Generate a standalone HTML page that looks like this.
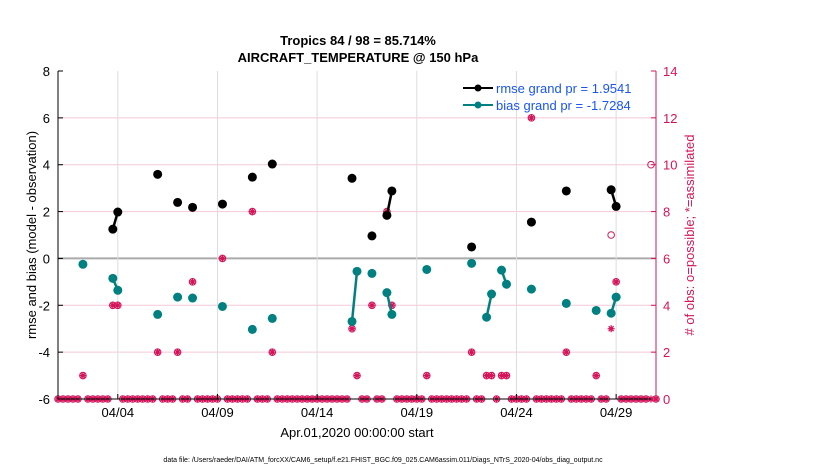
<!DOCTYPE html>
<html><head><meta charset="utf-8"><style>
body{margin:0;background:#fff;}
svg text{font-family:"Liberation Sans",Arial,sans-serif;}
</style></head><body>
<svg id="chart" width="830" height="470" viewBox="0 0 830 470" xmlns="http://www.w3.org/2000/svg">
<text x="358" y="45" text-anchor="middle" font-size="13" font-weight="bold">Tropics 84 / 98 = 85.714%</text>
<text x="358" y="62" text-anchor="middle" font-size="13" font-weight="bold">AIRCRAFT_TEMPERATURE @ 150 hPa</text>
<g id="grid"></g>
<g id="marks"></g>
<g id="axes"></g>
<text transform="translate(36,235) rotate(-90)" text-anchor="middle" font-size="13">rmse and bias (model - observation)</text>
<text transform="translate(694,235) rotate(-90)" text-anchor="middle" font-size="13" fill="#d4145a"># of obs: o=possible; *=assimilated</text>
<text x="357" y="437" text-anchor="middle" font-size="13">Apr.01,2020 00:00:00 start</text>
<text x="383" y="462" text-anchor="middle" font-size="7">data file: /Users/raeder/DAI/ATM_forcXX/CAM6_setup/f.e21.FHIST_BGC.f09_025.CAM6assim.011/Diags_NTrS_2020-04/obs_diag_output.nc</text>
<g>
<line x1="463" y1="88" x2="493" y2="88" stroke="#000" stroke-width="2"/>
<circle cx="478" cy="88" r="3.5" fill="#000"/>
<text x="496" y="93" font-size="13" fill="#1a55f0">rmse grand pr = 1.9541</text>
<line x1="463" y1="105" x2="493" y2="105" stroke="#008080" stroke-width="2"/>
<circle cx="478" cy="105" r="3.5" fill="#008080"/>
<text x="496" y="110" font-size="13" fill="#1a55f0">bias grand pr = -1.7284</text>
</g>
</svg>
<script>
const rmseT=[2.75,3.0,5.0,6.0,6.75,8.25,9.75,10.75,14.75,15.75,16.5,16.75,20.75,23.75,25.5,27.75,28.0];
const rmseV=[1.25,1.98,3.59,2.39,2.18,2.32,3.47,4.03,3.42,0.96,1.84,2.88,0.49,1.55,2.88,2.93,2.22];
const biasT=[1.25,2.75,3.0,5.0,6.0,6.75,8.25,9.75,10.75,14.75,15.0,15.75,16.5,16.75,18.5,20.75,21.5,21.75,22.25,22.5,23.75,25.5,27.0,27.75,28.0];
const biasV=[-0.25,-0.85,-1.36,-2.39,-1.65,-1.69,-2.05,-3.03,-2.56,-2.69,-0.55,-0.64,-1.46,-2.39,-0.47,-0.21,-2.51,-1.52,-0.5,-1.1,-1.31,-1.92,-2.22,-2.34,-1.65];
const obsT=[1.25,2.75,3.0,5.0,6.0,6.75,8.25,9.75,10.75,14.75,15.0,15.75,16.5,16.75,18.5,20.75,21.5,21.75,22.25,22.5,23.75,25.5,27.0,27.75,28.0,29.75];
const possible=[1,4,4,2,2,5,6,8,2,3,1,4,8,4,1,2,1,1,1,1,12,2,1,7,5,10];
const assimilated=[1,4,4,2,2,5,6,8,2,3,1,4,8,4,1,2,1,1,1,1,12,2,1,3,5,0];
const yTicks=[-6,-4,-2,0,2,4,6,8];
const rTicks=[0,2,4,6,8,10,12,14];
const xTickDays=[3,8,13,18,23,28];
const xTickLabels=["04/04","04/09","04/14","04/19","04/24","04/29"];

const L=58,R=656,T=71,B=399;
const X=t=>L+(R-L)*t/30;
const Y=v=>B-(B-T)*(v+6)/14;
const YR=c=>B-(B-T)*c/14;
const NS="http://www.w3.org/2000/svg";
function mk(tag,at,parent){const e=document.createElementNS(NS,tag);for(const k in at)e.setAttribute(k,at[k]);document.getElementById(parent).appendChild(e);return e;}

// grid
yTicks.forEach(v=>{if(v===-6||v===8)return;
const g=mk('line',{x1:L,x2:R,y1:Y(v),y2:Y(v),stroke:v===0?'#aaa':'#f4c8d8','stroke-width':v===0?2:1},'grid');

});
xTickDays.forEach(d=>{const g=mk('line',{x1:X(d),x2:X(d),y1:T,y2:B,stroke:'#ddd','stroke-width':1},'grid');

});

// axes
let a=mk('line',{x1:L,x2:L,y1:T,y2:B,stroke:'#000'},'axes');


a=mk('line',{x1:L,x2:R,y1:B,y2:B,stroke:'#000'},'axes');


a=mk('line',{x1:R,x2:R,y1:T,y2:B,stroke:'#d4145a'},'axes');


yTicks.forEach(v=>{
const tk=mk('line',{x1:L,x2:L+5,y1:Y(v),y2:Y(v),stroke:'#000'},'axes');


const t=mk('text',{x:L-8,y:Y(v)+5,'text-anchor':'end','font-size':13},'axes');t.textContent=v;

});
rTicks.forEach(c=>{
const tk=mk('line',{x1:R-5,x2:R,y1:YR(c),y2:YR(c),stroke:'#d4145a'},'axes');


const t=mk('text',{x:R+7,y:YR(c)+5,'font-size':13,fill:'#d4145a'},'axes');t.textContent=c;

});
xTickDays.forEach((d,i)=>{
const tk=mk('line',{x1:X(d),x2:X(d),y1:B-5,y2:B,stroke:'#000'},'axes');


const t=mk('text',{x:X(d),y:B+18,'text-anchor':'middle','font-size':13},'axes');t.textContent=xTickLabels[i];

});

// obs markers
const obsSet={};obsT.forEach((t,i)=>obsSet[t]=i);
for(let s=0;s<=120;s++){const t=s/4;
let p=0,q=0;if(t in obsSet){p=possible[obsSet[t]];q=assimilated[obsSet[t]];}
const x=X(t);
const c=mk('circle',{cx:x,cy:YR(p),r:3.3,fill:'none',stroke:'#d4145a','stroke-width':1},'marks');


const y=YR(q);
const st=mk('path',{d:`M${x-3.5} ${y}H${x+3.5}M${x} ${y-3.5}V${y+3.5}M${x-2.5} ${y-2.5}L${x+2.5} ${y+2.5}M${x-2.5} ${y+2.5}L${x+2.5} ${y-2.5}`,stroke:'#d4145a','stroke-width':1.3},'marks');

}

function series(ts,vs,col,name){
for(let i=1;i<ts.length;i++){if(Math.abs(ts[i]-ts[i-1]-0.25)<1e-6){
const l=mk('line',{x1:X(ts[i-1]),y1:Y(vs[i-1]),x2:X(ts[i]),y2:Y(vs[i]),stroke:col,'stroke-width':2.5},'marks');

}}
ts.forEach((t,i)=>{const c=mk('circle',{cx:X(t),cy:Y(vs[i]),r:4.5,fill:col},'marks');

});}
series(biasT,biasV,'#008080','bias');
series(rmseT,rmseV,'#000','rmse');
</script>
</body></html>
